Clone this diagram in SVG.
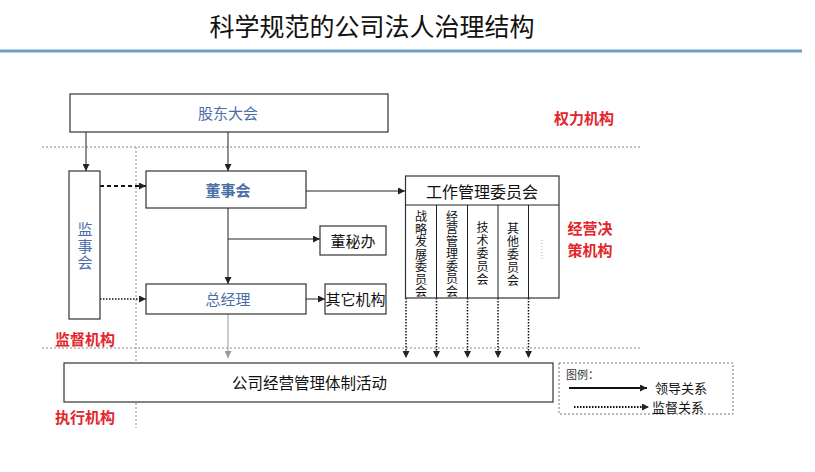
<svg xmlns="http://www.w3.org/2000/svg" width="815" height="472" viewBox="0 0 815 472">
<defs>
<style>
.box{fill:#fff;stroke:#333;stroke-width:1.2}
.t{font-family:"Noto Sans CJK SC","Liberation Sans",sans-serif}
.blue{fill:#4a6ea8}
.blk{fill:#111}
.red{fill:#e3262b;font-weight:bold;font-size:15px}
.guide{stroke:#888;stroke-width:1;stroke-dasharray:2,2;fill:none}
.ln{stroke:#222;stroke-width:1;fill:none}
.dot{stroke:#111;stroke-width:1.5;stroke-dasharray:1.5,1.5;fill:none}
.col{font-family:"Noto Sans CJK SC","Liberation Serif",serif;font-size:12px;fill:#111}
.vert{writing-mode:vertical-rl;text-anchor:middle}
</style>
<marker id="ah" viewBox="0 0 8 8" refX="8" refY="4" markerWidth="7" markerHeight="7" markerUnits="userSpaceOnUse" orient="auto"><path d="M0,0 L8,4 L0,8 z" fill="#222"/></marker>
<marker id="ahg" viewBox="0 0 8 8" refX="8" refY="4" markerWidth="7" markerHeight="7" markerUnits="userSpaceOnUse" orient="auto"><path d="M0,0 L8,4 L0,8 z" fill="#999"/></marker>
</defs>
<rect width="815" height="472" fill="#fff"/>
<text class="t" x="372" y="36" font-size="25" text-anchor="middle" fill="#111">科学规范的公司法人治理结构</text>
<line x1="0" y1="51" x2="802" y2="51" stroke="#6f9bc8" stroke-width="3"/>

<g id="guides">
<line class="guide" x1="42" y1="147" x2="640" y2="147"/>
<line class="guide" x1="42" y1="348" x2="640" y2="348"/>
<line class="guide" x1="136" y1="147" x2="136" y2="428"/>
</g>

<g id="labels">
<text class="t red" x="584" y="124" text-anchor="middle">权力机构</text>
<text class="t red" x="590" y="234" text-anchor="middle">经营决</text>
<text class="t red" x="590" y="256" text-anchor="middle">策机构</text>
<text class="t red" x="85" y="345" text-anchor="middle">监督机构</text>
<text class="t red" x="85" y="423" text-anchor="middle">执行机构</text>
</g>

<g id="connectors">
<line class="ln" x1="86" y1="132" x2="86" y2="171" marker-end="url(#ah)"/>
<line class="ln" x1="228" y1="132" x2="228" y2="171" marker-end="url(#ah)"/>
<line x1="100" y1="186" x2="146" y2="186" stroke="#111" stroke-width="2" stroke-dasharray="4,3" marker-end="url(#ah)"/>
<line class="ln" x1="306" y1="191" x2="405" y2="191" marker-end="url(#ah)"/>
<line class="ln" x1="228" y1="208" x2="228" y2="284" marker-end="url(#ah)"/>
<line class="ln" x1="228" y1="239" x2="320" y2="239" marker-end="url(#ah)"/>
<line class="dot" x1="100" y1="299" x2="146" y2="299" marker-end="url(#ah)"/>
<line class="ln" x1="306" y1="299" x2="325" y2="299" stroke-width="1.5" marker-end="url(#ah)"/>
<line x1="228" y1="314" x2="228" y2="358" stroke="#999" stroke-width="1" marker-end="url(#ahg)"/>
<line class="dot" x1="406" y1="298" x2="406" y2="358" marker-end="url(#ah)"/>
<line class="dot" x1="436.5" y1="298" x2="436.5" y2="358" marker-end="url(#ah)"/>
<line class="dot" x1="467.5" y1="298" x2="467.5" y2="358" marker-end="url(#ah)"/>
<line class="dot" x1="498" y1="298" x2="498" y2="358" marker-end="url(#ah)"/>
<line class="dot" x1="528.5" y1="298" x2="528.5" y2="358" marker-end="url(#ah)"/>
</g>

<g id="gudong">
<rect class="box" x="70" y="94" width="318" height="38"/>
<text class="t blue" x="228" y="119" font-size="15" text-anchor="middle">股东大会</text>
</g>

<g id="jianshi">
<rect class="box" x="69" y="171" width="31" height="148"/>
<text class="t blue vert" x="85" y="247" font-size="15" letter-spacing="1.5">监事会</text>
</g>

<g id="dongshi">
<rect class="box" x="146" y="171" width="160" height="37"/>
<text class="t blue" x="228" y="196" font-size="15" font-weight="bold" text-anchor="middle">董事会</text>
</g>

<g id="dongmi">
<rect class="box" x="320" y="226" width="66" height="29"/>
<text class="t blk" x="353" y="247" font-size="15" text-anchor="middle">董秘办</text>
</g>

<g id="zongjingli">
<rect class="box" x="146" y="284" width="160" height="30"/>
<text class="t blue" x="228" y="305" font-size="15" text-anchor="middle">总经理</text>
</g>

<g id="qita">
<rect class="box" x="325" y="284" width="61" height="30"/>
<text class="t blk" x="355.5" y="305" font-size="15" text-anchor="middle">其它机构</text>
</g>

<g id="weiyuanhui">
<rect class="box" x="405.5" y="176" width="153.5" height="122"/>
<line class="ln" x1="405.5" y1="205" x2="559" y2="205"/>
<line class="ln" x1="436.5" y1="205" x2="436.5" y2="298"/>
<line class="ln" x1="467.5" y1="205" x2="467.5" y2="298"/>
<line class="ln" x1="498" y1="205" x2="498" y2="298"/>
<line class="ln" x1="528.5" y1="205" x2="528.5" y2="298"/>
<text class="t blk" x="482" y="197.5" font-size="16" text-anchor="middle">工作管理委员会</text>
<text class="col vert" x="421" y="254.5" letter-spacing="0.5">战略发展委员会</text>
<text class="col vert" x="452" y="254" letter-spacing="0.5">经营管理委员会</text>
<text class="col vert" x="482.5" y="254" letter-spacing="1">技术委员会</text>
<text class="col vert" x="513" y="255" letter-spacing="1">其他委员会</text>
<line x1="542" y1="240" x2="542" y2="261" stroke="#bbb" stroke-width="1.2" stroke-dasharray="1,2"/>
</g>

<g id="huodong">
<rect class="box" x="64" y="363" width="489" height="39"/>
<text class="t blk" x="309.5" y="388.5" font-size="15.5" text-anchor="middle">公司经营管理体制活动</text>
</g>

<g id="legend">
<rect x="559" y="363" width="174" height="51" fill="#fff" stroke="#777" stroke-width="1" stroke-dasharray="2,2"/>
<text class="col" x="566" y="379" style="font-size:11px;fill:#333">图例：</text>
<line x1="569" y1="388" x2="647" y2="388" stroke="#111" stroke-width="2" marker-end="url(#ah)"/>
<text class="col" x="655" y="393" style="font-size:13px">领导关系</text>
<line x1="574" y1="407" x2="649" y2="407" stroke="#111" stroke-width="2" stroke-dasharray="1.5,1.5" marker-end="url(#ah)"/>
<text class="col" x="652" y="412" style="font-size:13px">监督关系</text>
</g>
</svg>
